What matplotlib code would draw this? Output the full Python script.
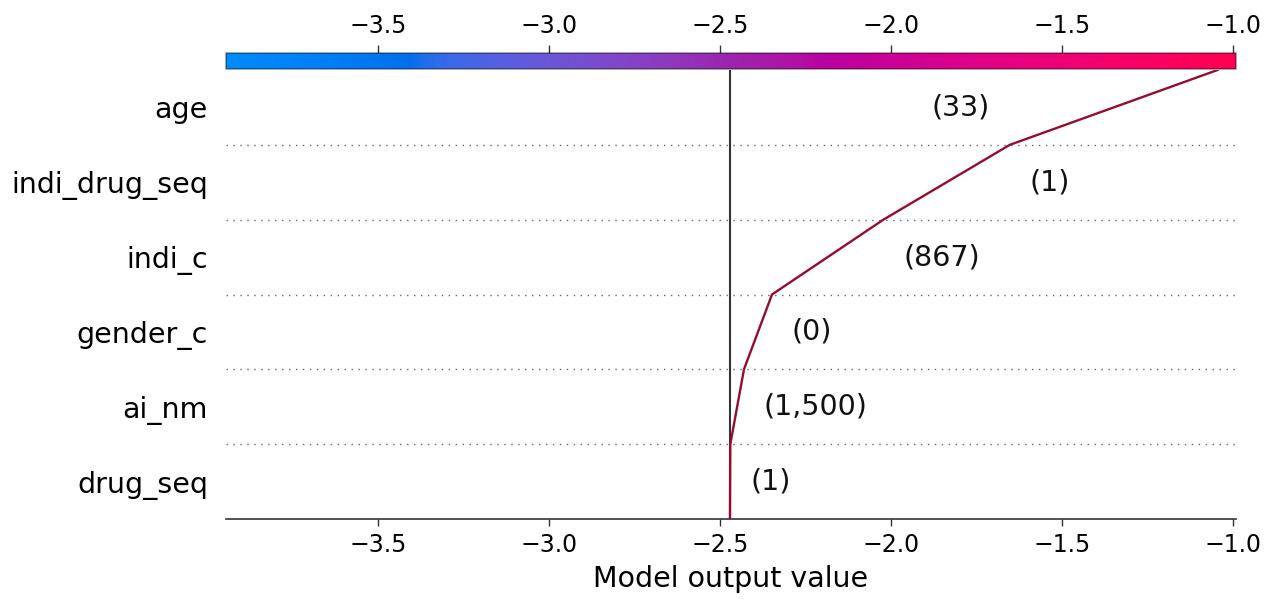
import numpy as np
import matplotlib
matplotlib.use("Agg")
import matplotlib.pyplot as plt
from matplotlib.colors import LinearSegmentedColormap, Normalize
from matplotlib.cm import ScalarMappable

# ---- data (bottom row to top row) ----
features = ["drug_seq", "ai_nm", "gender_c", "indi_c", "indi_drug_seq", "age"]
feature_values = ["1", "1,500", "0", "867", "1", "33"]
shap_values = [0.001, 0.040, 0.082, 0.326, 0.370, 0.608]
base_value = -2.471
x_ticks = [-3.5, -3.0, -2.5, -2.0, -1.5, -1.0]
x_limits = (-3.946, -0.99)
x_label = "Model output value"


# ---- SHAP-like red_blue colormap (LCh interpolation) ----
def lch2rgb(l, c, h):
    a = c * np.cos(h)
    b = c * np.sin(h)
    fy = (l + 16.0) / 116.0
    fx = fy + a / 500.0
    fz = fy - b / 200.0

    def finv(t):
        return np.where(t > 6 / 29, t ** 3, 3 * (6 / 29) ** 2 * (t - 4 / 29))

    X = 0.95047 * finv(fx)
    Y = 1.0 * finv(fy)
    Z = 1.08883 * finv(fz)
    M = np.array([[3.2404542, -1.5371385, -0.4985314],
                  [-0.9692660, 1.8760108, 0.0415560],
                  [0.0556434, -0.2040259, 1.0572252]])
    rgb = M @ np.array([X, Y, Z])
    rgb = np.where(rgb > 0.0031308, 1.055 * np.abs(rgb) ** (1 / 2.4) - 0.055, 12.92 * rgb)
    return np.clip(rgb, 0, 1)


blue_lch = [54.0, 70.0, 4.6588]
red_lch = [54.0, 90.0, 0.35470565 + 2 * np.pi]
l_mid = 40.0
nsteps = 100
l_vals = list(np.linspace(blue_lch[0], l_mid, nsteps // 2)) + list(np.linspace(l_mid, red_lch[0], nsteps // 2))
c_vals = np.linspace(blue_lch[1], red_lch[1], nsteps)
h_vals = np.linspace(blue_lch[2], red_lch[2], nsteps)
cols = [lch2rgb(l, c, h) for l, c, h in zip(l_vals, c_vals, h_vals)]
red_blue = LinearSegmentedColormap.from_list("red_blue", cols)

# ---- figure ----
W, H = 1273, 601
fig = plt.figure(figsize=(W / 100, H / 100), dpi=100)
ax_left, ax_right = 226 / W, 1236 / W
ax_bottom, ax_top = 1 - 519 / H, 1 - 70 / H
ax = fig.add_axes([ax_left, ax_bottom, ax_right - ax_left, ax_top - ax_bottom])

n = len(features)
cum = np.concatenate([[base_value], base_value + np.cumsum(shap_values)])
ys = np.arange(n + 1)

ax.set_xlim(*x_limits)
ax.set_ylim(0, n)

# dotted row separators
for i in range(1, n):
    ax.axhline(i, color="#666666", lw=1.0, dashes=(1, 4), zorder=0)

# base value line
ax.axvline(base_value, color="#333333", lw=1.5, zorder=1)

# decision line
ax.plot(cum, ys, color="#960c2c", lw=1.7, zorder=3)

# feature value annotations
margin = (x_limits[1] - x_limits[0]) * 0.0195
for i in range(n):
    lo, hi = min(cum[i], cum[i + 1]), max(cum[i], cum[i + 1])
    txt = "(" + feature_values[i] + ")"
    if hi + margin < x_limits[1] - 0.3:
        ax.text(hi + margin, i + 0.5, txt, ha="left", va="center", fontsize=20.5, color="#111111")
    else:
        ax.text(lo - margin, i + 0.5, txt, ha="right", va="center", fontsize=20.5, color="#111111")

# axes styling
for s in ["top", "left", "right"]:
    ax.spines[s].set_visible(False)
ax.spines["bottom"].set_color("#333333")
ax.spines["bottom"].set_linewidth(1.2)
ax.set_xticks(x_ticks)
ax.set_xticklabels([f"{t:.1f}".replace("-", "\u2212") for t in x_ticks])
ax.tick_params(axis="x", labelsize=17, length=5, width=1, color="#333333", pad=5)
ax.set_yticks(ys[:-1] + 0.5)
ax.set_yticklabels(features)
ax.tick_params(axis="y", length=0, labelsize=20.5, pad=13)
ax.set_xlabel(x_label, fontsize=20.5, labelpad=6)

# colorbar on top
cax = fig.add_axes([ax_left, 1 - 69 / H, ax_right - ax_left, 16 / H])
sm = ScalarMappable(norm=Normalize(*x_limits), cmap=red_blue)
cb = fig.colorbar(sm, cax=cax, orientation="horizontal")
cax.set_xlim(*x_limits)
cax.xaxis.set_ticks_position("top")
cax.xaxis.set_label_position("top")
cb.set_ticks(x_ticks)
cb.set_ticklabels([f"{t:.1f}".replace("-", "\u2212") for t in x_ticks])
cax.tick_params(axis="x", labelsize=17, length=6, width=1, color="#333333", pad=5)
cb.outline.set_edgecolor("#000000")
cb.outline.set_alpha(0.4)
cb.outline.set_linewidth(1.2)

fig.savefig("out.png", dpi=100)
